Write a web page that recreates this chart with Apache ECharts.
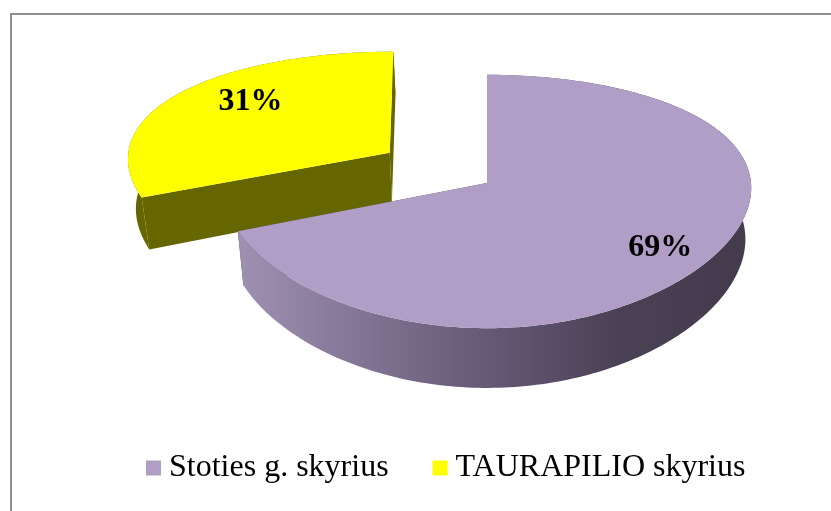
<!DOCTYPE html>
<html>
<head>
<meta charset="utf-8">
<script src="https://cdn.jsdelivr.net/npm/echarts@6/dist/echarts.min.js"></script>
<style>
  html, body { margin: 0; padding: 0; background: #fff; }
  #chart { width: 831px; height: 511px; }
</style>
</head>
<body>
<div id="chart"></div>
<script>
  // data
  var categories = ['Stoties g. skyrius', 'TAURAPILIO skyrius'];
  var shares = [69, 31];
  var topColors = ['#b09ec6', '#ffff00'];
  var explode = [0, 0.45];
  var labelRadius = [0.78, 0.66];
  var labelShiftY = [7, -10];

  // 3d pie geometry (simple perspective: farther back / lower = smaller)
  var cx = 487, cy = 183, rx = 264, ry = 124, depth = 51;
  var px = 0.04, py = 0.146, pz = 0.022;
  var startAngle = Math.PI / 2;

  var total = shares.reduce(function (a, b) { return a + b; }, 0);
  var slices = [];
  var acc = startAngle;
  for (var i = 0; i < shares.length; i++) {
    var span = shares[i] / total * Math.PI * 2;
    slices.push({ a0: acc, a1: acc - span, mid: acc - span / 2 });
    acc -= span;
  }

  // X to the right, Y to the back (unit radius), z = drop below top face
  function proj(X, Y, z) {
    z = z || 0;
    var sx = 1 / (1 + px * Y) * (1 - pz * z / depth), sy = 1 / (1 + py * Y);
    return [cx + rx * X * sx, cy + (-ry * Y + z) * sy];
  }

  function pt(a, r, o, z) {
    return proj(o[0] + r * Math.cos(a), o[1] + r * Math.sin(a), z);
  }

  function arc(a0, a1, o, z) {
    var pts = [];
    var n = Math.max(2, Math.ceil(Math.abs(a0 - a1) / 0.02));
    for (var k = 0; k <= n; k++) {
      pts.push(pt(a0 + (a1 - a0) * k / n, 1, o, z));
    }
    return pts;
  }

  var purpleWall = {
    type: 'linear', x: cx - rx, y: 0, x2: cx + rx, y2: 0, global: true,
    colorStops: [
      { offset: 0, color: '#a394b6' },
      { offset: 0.45, color: '#6b5e7c' },
      { offset: 0.75, color: '#4a4155' },
      { offset: 1, color: '#433b4c' }
    ]
  };
  var wallColors = [purpleWall, '#666600'];
  var faceColors = ['#4a4155', '#666600'];

  function renderSlice(idx) {
    return function (params, api) {
      var s = slices[idx];
      var f = explode[idx];
      var o = [f * Math.cos(s.mid), f * Math.sin(s.mid)];
      var children = [];
      var apexT = proj(o[0], o[1], 0), apexB = proj(o[0], o[1], depth);

      // radial faces
      [s.a0, s.a1].forEach(function (a) {
        children.push({
          type: 'polygon',
          shape: { points: [apexT, pt(a, 1, o, 0), pt(a, 1, o, depth), apexB] },
          style: { fill: faceColors[idx] }
        });
      });

      // outer wall (back parts end up under the top face)
      children.push({
        type: 'polygon',
        shape: { points: arc(s.a0, s.a1, o, 0).concat(arc(s.a1, s.a0, o, depth)) },
        style: { fill: wallColors[idx] }
      });

      // top face
      children.push({
        type: 'polygon',
        shape: { points: [apexT].concat(arc(s.a0, s.a1, o, 0)) },
        style: { fill: topColors[idx] }
      });

      // label
      var lp = pt(s.mid, labelRadius[idx], o, 0);
      children.push({
        type: 'text',
        style: {
          x: lp[0], y: lp[1] + labelShiftY[idx],
          text: api.value(0) + '%',
          fill: '#000',
          font: 'bold 32px "Liberation Serif"',
          align: 'center', verticalAlign: 'middle'
        }
      });

      return { type: 'group', children: children };
    };
  }

  var series = categories.map(function (name, i) {
    return {
      name: name,
      type: 'custom',
      coordinateSystem: 'none',
      z: i === 0 ? 3 : 2,
      itemStyle: { color: topColors[i] },
      renderItem: renderSlice(i),
      data: [shares[i]],
      silent: true,
      animation: false
    };
  });

  var chart = echarts.init(document.getElementById('chart'));
  chart.setOption({
    backgroundColor: '#fff',
    animation: false,
    graphic: [{
      type: 'rect',
      shape: { x: 11, y: 14, width: 900, height: 600 },
      style: { fill: 'none', stroke: '#8f8f8f', lineWidth: 2 },
      z: -10
    }],
    legend: {
      data: categories,
      left: 141,
      top: 447,
      icon: 'rect',
      itemWidth: 15,
      itemHeight: 15,
      itemGap: 44,
      selectedMode: false,
      textStyle: { fontFamily: 'Liberation Serif', fontSize: 32, color: '#000', padding: [0, 0, 0, 3] }
    },
    series: series
  });
</script>
</body>
</html>
